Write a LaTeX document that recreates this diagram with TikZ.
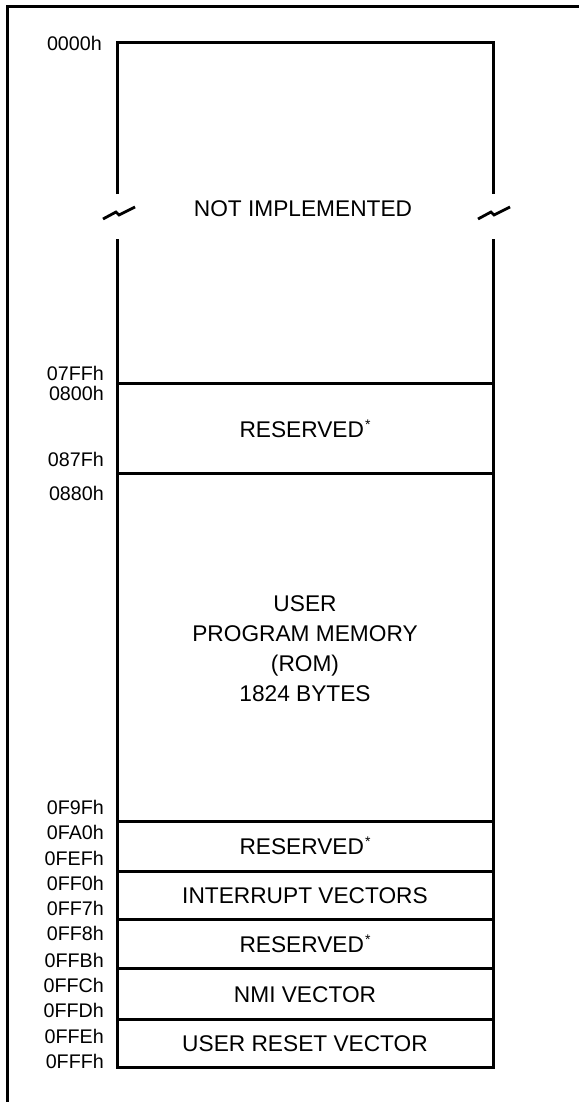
\documentclass[tikz,border=0pt]{standalone}
\usepackage{fontspec}
\setmainfont{Liberation Sans}
\newcommand{\resast}{\hspace{1pt}\raisebox{8pt}{\fontsize{14}{14}\selectfont*}}
\begin{document}
\begin{tikzpicture}[x=1pt,y=-1pt,
  frame/.style={line width=3pt,line cap=rect},
  boxline/.style={line width=3pt},
  brk/.style={line width=2.8pt,line join=miter},
  addr/.style={anchor=east,inner sep=0pt,text height=14.1pt,text depth=0pt,
    font=\fontsize{19.7}{23}\selectfont},
  region/.style={anchor=center,inner sep=0pt,text height=16.3pt,text depth=0pt,
    font=\fontsize{22.7}{27}\selectfont}]
\useasboundingbox (0,0) rectangle (578,1102);
% outer frame (only top and left visible)
\draw[frame] (578,7) -- (7,7) -- (7,1102);
% memory column, upper part
\draw[boxline] (117,194) -- (117,43) -- (493,43) -- (493,194);
% memory column, lower part
\draw[boxline] (117,239) -- (117,1067) -- (493,1067) -- (493,239);
% break marks
\draw[brk] (103,219) -- (116,212) -- (119,215) -- (135,207);
\draw[brk] (478,219) -- (491,212) -- (494,215) -- (510,207);
% separators
\foreach \yy in {383,473,821,871,919,968,1019}
  \draw[boxline] (117,\yy) -- (495,\yy);
% region texts
\node[region] (ni) at (303,208) {NOT IMPLEMENTED};
\node[region] (r1) at (305,429) {RESERVED\resast};
\node[region] (u1) at (305,603) {USER};
\node[region] (u2) at (305,633) {PROGRAM MEMORY};
\node[region] (u3) at (305,663) {(ROM)};
\node[region] (u4) at (305,693) {1824 BYTES};
\node[region] (r2) at (305,846) {RESERVED\resast};
\node[region] (iv) at (305,895) {INTERRUPT VECTORS};
\node[region] (r3) at (305,944) {RESERVED\resast};
\node[region] (nmi) at (305,994) {NMI VECTOR};
\node[region] (urv) at (305,1043) {USER RESET VECTOR};
% addresses
\node[addr] (a0000) at (102,43) {0000h};
\node[addr] (a07FF) at (104,373) {07FFh};
\node[addr] (a0800) at (104,393) {0800h};
\node[addr] (a087F) at (104,459) {087Fh};
\node[addr] (a0880) at (104,493) {0880h};
\node[addr] (a0F9F) at (104,807) {0F9Fh};
\node[addr] (a0FA0) at (104,832) {0FA0h};
\node[addr] (a0FEF) at (104,858) {0FEFh};
\node[addr] (a0FF0) at (104,883) {0FF0h};
\node[addr] (a0FF7) at (104,908) {0FF7h};
\node[addr] (a0FF8) at (104,933) {0FF8h};
\node[addr] (a0FFB) at (104,960) {0FFBh};
\node[addr] (a0FFC) at (104,985) {0FFCh};
\node[addr] (a0FFD) at (104,1010) {0FFDh};
\node[addr] (a0FFE) at (104,1036) {0FFEh};
\node[addr] (a0FFF) at (104,1061) {0FFFh};
\end{tikzpicture}
\end{document}
